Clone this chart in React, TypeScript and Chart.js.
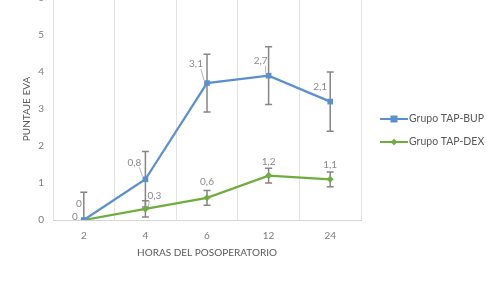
import React, { useEffect, useRef } from "react";
import { Chart, registerables } from "chart.js";

Chart.register(...registerables);

const categories = ["2", "4", "6", "12", "24"];
const bupValues = [0, 1.1, 3.7, 3.9, 3.2];
const bupErrors = [0.75, 0.75, 0.78, 0.78, 0.8];
const bupLabels = ["0", "0,8", "3,1", "2,7", "2,1"];
const dexValues = [0, 0.3, 0.6, 1.2, 1.1];
const dexErrors = [0, 0.22, 0.2, 0.2, 0.2];
const dexLabels = ["0", "0,3", "0,6", "1,2", "1,1"];
const yMin = 0;
const yMax = 6;

// label placement offsets (style) relative to each point, [dx, dy, leader]
const bupLabelOffsets: [number, number, boolean][] = [
  [-5, -16, false],
  [-11, -17, true],
  [-11, -19, true],
  [-8, -15, true],
  [-10, -15, false],
];
const dexLabelOffsets: [number, number, boolean][] = [
  [-9, -3, false],
  [9, -13, true],
  [0, -16, false],
  [0, -14, false],
  [0, -15, false],
];

const FONT = "Lato, 'Open Sans', sans-serif";
const BLUE = "#5B8FD0";
const GREEN = "#6FAD3E";

const errorBarPlugin = {
  id: "errorBars",
  beforeDatasetsDraw(chart: any) {
    const { ctx, chartArea, scales } = chart;
    const ys = scales.y;
    const errs = [bupErrors, dexErrors];
    const vals = [bupValues, dexValues];
    ctx.save();
    ctx.beginPath();
    ctx.rect(chartArea.left, chartArea.top - 20, chartArea.right - chartArea.left, chartArea.bottom - chartArea.top + 20);
    ctx.clip();
    ctx.strokeStyle = "#858585";
    ctx.lineWidth = 1.5;
    errs.forEach((errArr, di) => {
      const meta = chart.getDatasetMeta(di);
      errArr.forEach((e, j) => {
        if (!e) return;
        const x = meta.data[j].x;
        const top = ys.getPixelForValue(vals[di][j] + e);
        const bot = ys.getPixelForValue(vals[di][j] - e);
        ctx.beginPath();
        ctx.moveTo(x, top);
        ctx.lineTo(x, bot);
        ctx.moveTo(x - 3.5, top);
        ctx.lineTo(x + 3.5, top);
        ctx.moveTo(x - 3.5, bot);
        ctx.lineTo(x + 3.5, bot);
        ctx.stroke();
      });
    });
    ctx.restore();
  },
};

const labelPlugin = {
  id: "pointLabels",
  afterDatasetsDraw(chart: any) {
    const { ctx } = chart;
    const sets = [
      { labels: bupLabels, offs: bupLabelOffsets },
      { labels: dexLabels, offs: dexLabelOffsets },
    ];
    ctx.save();
    ctx.font = `10px ${FONT}`;
    ctx.textAlign = "center";
    ctx.textBaseline = "middle";
    sets.forEach((s, di) => {
      const meta = chart.getDatasetMeta(di);
      s.labels.forEach((lab, j) => {
        const p = meta.data[j];
        const [dx, dy, leader] = s.offs[j];
        const lx = p.x + dx;
        const ly = p.y + dy;
        ctx.fillStyle = "#8a8a8a";
        ctx.fillText(lab, lx, ly);
        if (leader) {
          ctx.strokeStyle = "#a0a0a0";
          ctx.lineWidth = 0.8;
          const sx = dx < 0 ? lx + 5 : lx - 5;
          ctx.beginPath();
          ctx.moveTo(sx, ly + 5);
          ctx.lineTo(p.x + (dx < 0 ? -3 : 3), p.y - 3);
          ctx.stroke();
        }
      });
    });
    ctx.restore();
  },
};

const legendPlugin = {
  id: "customLegend",
  afterDraw(chart: any) {
    const { ctx, chartArea } = chart;
    const items = [
      { text: chart.data.datasets[0].label, color: BLUE, shape: "square" },
      { text: chart.data.datasets[1].label, color: GREEN, shape: "diamond" },
    ];
    ctx.save();
    ctx.font = `10.5px ${FONT}`;
    ctx.textBaseline = "middle";
    ctx.textAlign = "left";
    items.forEach((it, i) => {
      const y = chartArea.top + 121 + i * 23;
      const x0 = chartArea.right + 19;
      const x1 = x0 + 28;
      ctx.strokeStyle = it.color;
      ctx.lineWidth = 2;
      ctx.beginPath();
      ctx.moveTo(x0, y);
      ctx.lineTo(x1, y);
      ctx.stroke();
      ctx.fillStyle = it.color;
      const cx = (x0 + x1) / 2;
      if (it.shape === "square") {
        ctx.fillRect(cx - 3.5, y - 3.5, 7, 7);
      } else {
        ctx.beginPath();
        ctx.moveTo(cx, y - 3.5);
        ctx.lineTo(cx + 3, y);
        ctx.lineTo(cx, y + 3.5);
        ctx.lineTo(cx - 3, y);
        ctx.closePath();
        ctx.fill();
      }
      ctx.fillStyle = "#595959";
      ctx.fillText(it.text, x1 + 1, y);
    });
    ctx.restore();
  },
};

export default function App() {
  const ref = useRef<HTMLCanvasElement>(null);
  useEffect(() => {
    if (!ref.current) return;
    const chart = new Chart(ref.current, {
      type: "line",
      data: {
        labels: categories,
        datasets: [
          {
            label: "Grupo TAP-BUP",
            data: bupValues,
            borderColor: BLUE,
            backgroundColor: BLUE,
            borderWidth: 2.25,
            pointStyle: "rect",
            pointRadius: 4,
            pointBorderWidth: 0,
            tension: 0,
          },
          {
            label: "Grupo TAP-DEX",
            data: dexValues,
            borderColor: GREEN,
            backgroundColor: GREEN,
            borderWidth: 2.25,
            pointStyle: "rectRot",
            pointRadius: 3.5,
            pointBorderWidth: 0,
            tension: 0,
          },
        ],
      },
      options: {
        responsive: false,
        animation: false,
        devicePixelRatio: 1,
        layout: { padding: { left: 0, right: 139, top: 8, bottom: 0 } },
        plugins: {
          legend: { display: false },
          tooltip: { enabled: false },
        },
        scales: {
          x: {
            type: "category",
            offset: true,
            grid: { display: true, offset: true, color: "#e3e3e3", lineWidth: 1, drawTicks: false },
            border: { display: true, color: "#d4d4d4", width: 1 },
            ticks: { padding: 10, color: "#7a7a7a", font: { family: FONT, size: 10 } },
            title: {
              display: true,
              text: "HORAS DEL POSOPERATORIO",
              color: "#595959",
              font: { family: FONT, size: 10 },
              padding: { top: 0, bottom: 23 },
            },
            afterFit: (s: any) => {
              s.height = 62;
              s.paddingLeft = 0;
              s.paddingRight = 0;
            },
          },
          y: {
            min: yMin,
            max: yMax,
            grid: { display: false, drawTicks: false },
            border: { display: false },
            ticks: { stepSize: 1, padding: 9, color: "#7a7a7a", font: { family: FONT, size: 10 } },
            title: {
              display: true,
              text: "PUNTAJE EVA",
              color: "#595959",
              font: { family: FONT, size: 10 },
              padding: { top: 21, bottom: 0 },
            },
            afterFit: (s: any) => {
              s.width = 53;
              s.paddingTop = 0;
              s.paddingBottom = 0;
            },
          },
        },
      },
      plugins: [errorBarPlugin, labelPlugin, legendPlugin],
    });
    return () => chart.destroy();
  }, []);
  return (
    <div style={{ position: "absolute", left: 0, top: -10, width: 500, height: 292, background: "#fff" }}>
      <canvas ref={ref} width={500} height={292} style={{ display: "block" }} />
    </div>
  );
}
